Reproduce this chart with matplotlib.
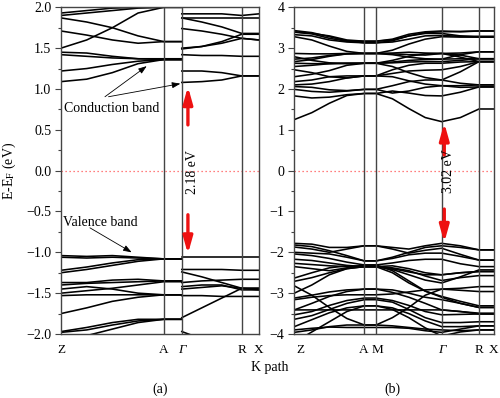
import numpy as np
import matplotlib
matplotlib.use('Agg')
import matplotlib.pyplot as plt
import matplotlib.transforms as mtransforms

plt.rcParams['font.family'] = ['Liberation Serif', 'DejaVu Serif']
plt.rcParams['mathtext.fontset'] = 'stix'

GAMMA = '\u0393'

# ---------------- Panel (a) data ----------------
a_labels = ['Z', 'A', GAMMA, 'R', 'X']
a_nodes = [0.0, 0.519, 0.610, 0.913, 1.0]
# energies at Z, 1/4, 1/2, 3/4 of Z-A, at A, and at Gamma (left of the break)
a_seg1 = [
    [1.09, 1.12, 1.20, 1.31, 1.36, 1.36],
    [1.22, 1.25, 1.30, 1.34, 1.36, 1.36],
    [1.42, 1.40, 1.38, 1.37, 1.36, 1.36],
    [1.45, 1.44, 1.40, 1.37, 1.37, 1.37],
    [1.50, 1.60, 1.75, 1.93, 2.00, 2.00],
    [1.71, 1.66, 1.60, 1.56, 1.58, 1.58],
    [1.87, 1.82, 1.75, 1.65, 1.58, 1.58],
    [1.90, 1.93, 1.96, 1.99, 2.00, 2.00],
    [1.93, 1.96, 1.99, 2.00, 2.00, 2.00],
    [-1.04, -1.05, -1.04, -1.06, -1.08, -1.08],
    [-1.06, -1.07, -1.06, -1.07, -1.08, -1.08],
    [-1.22, -1.18, -1.13, -1.09, -1.08, -1.08],
    [-1.25, -1.21, -1.16, -1.11, -1.08, -1.08],
    [-1.37, -1.37, -1.34, -1.33, -1.35, -1.35],
    [-1.40, -1.38, -1.37, -1.36, -1.35, -1.35],
    [-1.45, -1.42, -1.45, -1.50, -1.52, -1.52],
    [-1.50, -1.47, -1.44, -1.40, -1.36, -1.36],
    [-1.53, -1.52, -1.52, -1.52, -1.52, -1.52],
    [-1.75, -1.68, -1.60, -1.55, -1.52, -1.52],
    [-1.97, -1.92, -1.86, -1.82, -1.82, -1.82],
    [-1.98, -1.95, -1.89, -1.84, -1.82, -1.82],
    [-2.08, -2.02, -1.94, -1.86, -1.82, -1.82],
]
# energies at Gamma, 1/3, 2/3 of Gamma-R, at R, at X
a_seg2 = [
    [1.08, 1.09, 1.11, 1.16, 1.16],
    [1.22, 1.22, 1.20, 1.16, 1.16],
    [1.42, 1.41, 1.41, 1.40, 1.40],
    [1.49, 1.52, 1.58, 1.67, 1.67],
    [1.50, 1.52, 1.56, 1.62, 1.60],
    [1.74, 1.71, 1.67, 1.62, 1.60],
    [1.87, 1.82, 1.76, 1.68, 1.68],
    [1.87, 1.87, 1.87, 1.87, 1.87],
    [1.92, 1.92, 1.92, 1.90, 1.92],
    [-1.06, -1.06, -1.06, -1.06, -1.06],
    [-1.21, -1.21, -1.21, -1.22, -1.22],
    [-1.24, -1.30, -1.37, -1.44, -1.44],
    [-1.37, -1.35, -1.34, -1.33, -1.33],
    [-1.42, -1.40, -1.40, -1.46, -1.46],
    [-1.45, -1.43, -1.41, -1.44, -1.46],
    [-1.53, -1.53, -1.54, -1.54, -1.54],
    [-1.80, -1.68, -1.56, -1.44, -1.44],
    [-1.97, -2.06, -2.20, -2.30, -2.30],
]

# ---------------- Panel (b) data ----------------
b_labels = ['Z', 'A', 'M', GAMMA, 'R', 'X']
b_nodes = [0.0, 0.351, 0.409, 0.738, 0.925, 1.0]
# energies at Z, 1/4, 1/2, 3/4, A | M, 1/4, 1/2, 3/4, Gamma | mid Gamma-R, R | X
b_bands = [
    [1.25, 1.42, 1.65, 1.84, 1.89, 1.89, 1.76, 1.52, 1.30, 1.20, 1.30, 1.51, 1.51],
    [1.83, 1.78, 1.80, 1.86, 1.89, 1.89, 1.95, 1.90, 1.84, 1.83, 1.92, 2.05, 2.05],
    [1.99, 1.94, 1.92, 1.95, 1.99, 1.99, 1.90, 1.95, 2.04, 2.08, 2.04, 2.05, 2.05],
    [2.06, 2.04, 1.98, 1.96, 1.99, 1.99, 2.08, 2.18, 2.22, 2.22, 2.14, 2.10, 2.10],
    [2.10, 2.12, 2.18, 2.27, 2.32, 2.32, 2.30, 2.20, 2.12, 2.08, 2.08, 2.10, 2.10],
    [2.18, 2.22, 2.30, 2.32, 2.32, 2.32, 2.38, 2.44, 2.46, 2.47, 2.55, 2.67, 2.67],
    [2.30, 2.36, 2.45, 2.58, 2.63, 2.63, 2.55, 2.40, 2.28, 2.22, 2.42, 2.67, 2.67],
    [2.47, 2.40, 2.30, 2.27, 2.32, 2.32, 2.47, 2.58, 2.63, 2.63, 2.66, 2.67, 2.67],
    [2.55, 2.58, 2.62, 2.63, 2.63, 2.63, 2.64, 2.66, 2.67, 2.67, 2.70, 2.74, 2.74],
    [2.63, 2.62, 2.62, 2.63, 2.63, 2.63, 2.66, 2.70, 2.72, 2.73, 2.74, 2.74, 2.74],
    [2.67, 2.72, 2.80, 2.86, 2.87, 2.87, 2.84, 2.78, 2.74, 2.73, 2.84, 2.91, 2.91],
    [2.73, 2.76, 2.82, 2.86, 2.87, 2.87, 2.86, 2.84, 2.83, 2.87, 2.88, 2.91, 2.91],
    [2.79, 2.70, 2.64, 2.62, 2.63, 2.63, 2.70, 2.80, 2.86, 2.87, 2.78, 2.67, 2.67],
    [2.87, 2.86, 2.86, 2.87, 2.87, 2.87, 2.88, 2.90, 2.88, 2.87, 2.83, 2.74, 2.74],
    [3.28, 3.20, 3.05, 2.92, 2.87, 2.87, 2.95, 3.10, 3.22, 3.28, 3.27, 3.27, 3.27],
    [3.33, 3.30, 3.20, 3.15, 3.13, 3.13, 3.15, 3.22, 3.30, 3.31, 3.29, 3.29, 3.29],
    [3.39, 3.35, 3.24, 3.17, 3.17, 3.17, 3.20, 3.30, 3.36, 3.36, 3.30, 3.27, 3.27],
    [3.43, 3.38, 3.28, 3.18, 3.13, 3.13, 3.18, 3.30, 3.38, 3.40, 3.41, 3.42, 3.42],
    [3.40, 3.36, 3.30, 3.20, 3.17, 3.17, 3.22, 3.34, 3.40, 3.42, 3.40, 3.42, 3.42],
    [-1.78, -1.80, -1.88, -1.88, -1.84, -1.84, -1.88, -1.92, -1.84, -1.78, -1.84, -1.94, -1.94],
    [-1.82, -1.86, -1.96, -2.08, -2.21, -2.21, -2.12, -2.00, -1.88, -1.84, -1.88, -1.94, -1.94],
    [-1.87, -1.92, -2.00, -1.92, -1.84, -1.84, -1.92, -2.02, -1.95, -1.90, -2.05, -2.19, -2.19],
    [-2.00, -2.02, -2.04, -2.12, -2.21, -2.21, -2.15, -2.06, -2.02, -2.02, -2.10, -2.19, -2.19],
    [-2.04, -2.08, -2.15, -2.24, -2.31, -2.31, -2.26, -2.20, -2.17, -2.17, -2.28, -2.35, -2.35],
    [-2.17, -2.20, -2.26, -2.32, -2.35, -2.35, -2.42, -2.55, -2.68, -2.75, -2.60, -2.43, -2.43],
    [-2.27, -2.30, -2.33, -2.35, -2.35, -2.35, -2.40, -2.48, -2.55, -2.55, -2.50, -2.47, -2.47],
    [-2.35, -2.40, -2.45, -2.38, -2.31, -2.31, -2.45, -2.70, -2.95, -3.10, -3.25, -3.35, -3.35],
    [-2.63, -2.50, -2.38, -2.33, -2.35, -2.35, -2.38, -2.45, -2.58, -2.69, -2.62, -2.57, -2.57],
    [-2.71, -2.62, -2.50, -2.40, -2.35, -2.35, -2.33, -2.40, -2.50, -2.55, -2.50, -2.47, -2.47],
    [-2.82, -3.05, -3.35, -3.62, -3.78, -3.78, -3.60, -3.35, -3.05, -2.90, -2.88, -2.84, -2.84],
    [-3.00, -2.80, -2.55, -2.40, -2.35, -2.35, -2.50, -2.75, -2.95, -3.08, -3.20, -3.31, -3.31],
    [-3.12, -3.05, -2.97, -2.92, -2.90, -2.90, -2.92, -3.00, -3.10, -3.16, -3.25, -3.35, -3.35],
    [-3.16, -3.10, -3.06, -3.04, -3.04, -3.04, -3.02, -2.97, -2.92, -2.90, -2.93, -2.96, -2.96],
    [-3.41, -3.25, -3.08, -2.96, -2.90, -2.90, -2.98, -3.10, -3.25, -3.41, -3.45, -3.49, -3.49],
    [-3.41, -3.41, -3.41, -3.41, -3.41, -3.41, -3.41, -3.41, -3.41, -3.41, -3.45, -3.51, -3.51],
    [-3.53, -3.45, -3.30, -3.18, -3.12, -3.12, -3.18, -3.30, -3.45, -3.53, -3.52, -3.51, -3.51],
    [-3.64, -3.55, -3.40, -3.25, -3.16, -3.16, -3.22, -3.40, -3.60, -3.72, -3.72, -3.70, -3.70],
    [-3.82, -3.65, -3.48, -3.36, -3.31, -3.31, -3.36, -3.50, -3.68, -3.82, -3.82, -3.80, -3.80],
    [-3.90, -3.86, -3.83, -3.84, -3.84, -3.84, -3.84, -3.86, -3.92, -3.96, -3.88, -3.80, -3.80],
    [-3.96, -3.90, -3.82, -3.78, -3.78, -3.78, -3.80, -3.84, -3.88, -3.90, -3.92, -3.90, -3.90],
    [-4.20, -3.95, -3.70, -3.45, -3.31, -3.31, -3.40, -3.60, -3.85, -4.05, -3.95, -3.90, -3.90],
]

gap_a = '2.18 eV'
gap_b = '3.02 eV'

# ---------------- figure ----------------
fig = plt.figure(figsize=(5.0, 3.98), dpi=100)
W, H = 500.0, 398.0
axa = fig.add_axes([61 / W, 1 - 334 / H, (259 - 61) / W, (334 - 7.3) / H])
axb = fig.add_axes([294.3 / W, 1 - 334 / H, (494 - 294.3) / W, (334 - 7.3) / H])

band_kw = dict(color='black', lw=1.15, solid_joinstyle='round')
spine_col = '#444444'

# panel a bands
zA, A, G, R, X = a_nodes
x1 = list(np.linspace(zA, A, 5)) + [G]
x2 = list(np.linspace(G, R, 4)) + [X]
for b in a_seg1:
    axa.plot(x1, b, **band_kw)
for b in a_seg2:
    axa.plot(x2, b, **band_kw)

# panel b bands
bz, bA, bM, bG, bR, bX = b_nodes
xb = (list(np.linspace(bz, bA, 5)) + list(np.linspace(bM, bG, 5))
      + [0.5 * (bG + bR), bR, bX])
for b in b_bands:
    axb.plot(xb, b, **band_kw)

for ax, nodes, labels, ylim in [(axa, a_nodes, a_labels, (-2.0, 2.0)),
                                (axb, b_nodes, b_labels, (-4.0, 4.0))]:
    ax.set_xlim(nodes[0], nodes[-1])
    ax.set_ylim(*ylim)
    for n in nodes[1:-1]:
        ax.axvline(n, color=spine_col, lw=1.0, zorder=3)
    ax.axhline(0, color='#ff5555', lw=0.9, ls=(0, (1, 2.2)), zorder=1)
    ax.set_xticks(nodes)
    ax.set_xticklabels(labels, fontsize=9.5)
    for t in ax.get_xticklabels():
        if t.get_text() == GAMMA:
            t.set_style('italic')
    ax.tick_params(axis='x', length=0, pad=7)
    ax.tick_params(axis='y', direction='out', length=4, width=0.8,
                   color=spine_col, labelsize=10, pad=3)
    ax.tick_params(axis='y', which='minor', direction='out', length=2.5,
                   width=0.8, color=spine_col)
    for s in ax.spines.values():
        s.set_color(spine_col)
        s.set_linewidth(1.0)

# small horizontal offsets of some panel (b) labels, as in the original
b_shift = {'Z': 6, 'A': -1, 'M': 2}
for t in axb.get_xticklabels():
    dx = b_shift.get(t.get_text(), 0)
    if dx:
        t.set_transform(t.get_transform() +
                        mtransforms.ScaledTranslation(dx / 100.0, 0, fig.dpi_scale_trans))

axa.set_yticks(np.arange(-2.0, 2.01, 0.5))
axa.set_yticklabels(['%.1f' % v if v >= 0 else '\u2212%.1f' % -v
                     for v in np.arange(-2.0, 2.01, 0.5)])
axa.set_yticks(np.arange(-1.75, 2.0, 0.5), minor=True)
axb.set_yticks(np.arange(-4, 5, 1))
axb.set_yticks(np.arange(-3.5, 4.0, 1.0), minor=True)

axa.set_ylabel(r'E-E$_\mathrm{F}$ (eV)', fontsize=10, labelpad=6)

# red gap arrows
red = '#ee1111'
arr = dict(arrowstyle='-|>,head_length=1.0,head_width=0.28', color=red, lw=2.4,
           shrinkA=0, shrinkB=0)
axa.annotate('', xy=(0.641, 1.03), xytext=(0.641, 0.56), arrowprops=arr)
axa.annotate('', xy=(0.641, -1.02), xytext=(0.641, -0.54), arrowprops=arr)
axb.annotate('', xy=(0.751, 1.17), xytext=(0.751, 0.38), arrowprops=arr)
axb.annotate('', xy=(0.751, -1.76), xytext=(0.751, -0.94), arrowprops=arr)
axa.text(0.664, -0.02, gap_a, rotation=90, ha='center', va='center', fontsize=10)
axb.text(0.770, -0.02, gap_b, rotation=90, ha='center', va='center', fontsize=10)

# band annotations
thin = dict(arrowstyle='-|>,head_length=0.5,head_width=0.18', color='black',
            lw=0.6, shrinkA=0, shrinkB=0)
axa.text(0.255, 0.767, 'Conduction band', ha='center', va='center', fontsize=10)
axa.annotate('', xy=(0.433, 1.28), xytext=(0.222, 0.905), arrowprops=thin)
axa.annotate('', xy=(0.603, 1.065), xytext=(0.240, 0.905), arrowprops=thin)
axa.text(0.197, -0.63, 'Valence band', ha='center', va='center', fontsize=10)
axa.annotate('', xy=(0.357, -1.0), xytext=(0.146, -0.70), arrowprops=thin)

fig.text(270 / W, 1 - 368 / H, 'K path', ha='center', va='center', fontsize=10)
fig.text(160 / W, 1 - 389 / H, '(a)', ha='center', va='center', fontsize=10)
fig.text(392 / W, 1 - 389 / H, '(b)', ha='center', va='center', fontsize=10)

fig.savefig('out.png', dpi=100)
